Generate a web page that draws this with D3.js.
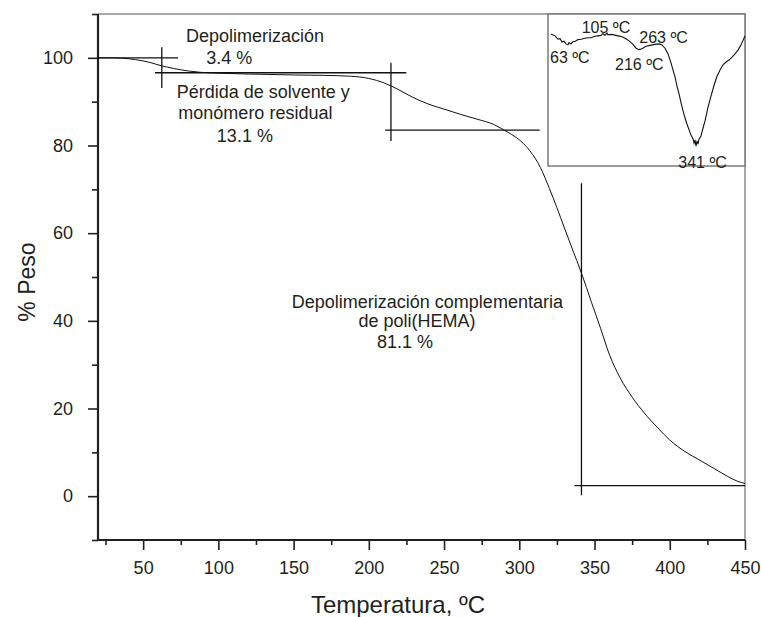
<!DOCTYPE html>
<html>
<head>
<meta charset="utf-8">
<script src="https://cdn.jsdelivr.net/npm/d3@7/dist/d3.min.js"></script>
<style>
  body { margin: 0; background: #fff; }
  text { font-family: "Liberation Sans", Arial, Helvetica, sans-serif; fill: #231f20; }
</style>
</head>
<body>
<svg id="chart" width="761" height="617"></svg>
<script>
// TGA curve: temperature (ºC) vs remaining weight (%)
const tempC = [20, 30, 40, 50, 55, 62, 70, 80, 88, 100, 120, 150, 170, 188, 200, 210, 220, 228, 240, 250,
  261, 272, 283, 290, 295, 301, 307, 314, 320, 325, 330, 335, 341.3, 348, 354, 360, 367, 375, 383, 392,
  400, 410, 420, 430, 438, 445, 450];
const weightPct = [100, 100, 99.8, 99.3, 98.9, 98.2, 97.6, 97.0, 96.7, 96.5, 96.3, 96.1, 96.0, 95.8, 95.3, 94.3, 92.7, 91.2, 89.4, 88.3,
  87.1, 86.0, 84.8, 83.5, 82.5, 81.0, 78.8, 75.0, 70.2, 65.8, 61.2, 56.6, 50.9, 44.2, 38.3, 32.2, 27.0, 22.6, 19.0, 15.6,
  12.8, 10.2, 8.2, 6.2, 4.6, 3.4, 2.9];

// Weight loss of each step (%)
const stepLoss = [3.4, 13.1, 81.1];
// Temperatures where each step is marked (ºC)
const stepTemp = [62.4, 214.7, 341.3];

// DTG curve for the inset (derivative, arbitrary units)
const dtgTemp = [26.5, 35.3, 41.8, 46.2, 50.6, 54.9, 59.3, 63.7, 65.8, 70.2, 74.6, 78.9, 85.5, 92, 100.8, 107.3, 113.9,
  122.6, 129.1, 135.7, 140.1, 144.4, 148.8, 151, 157.5, 164.1, 172.8, 181.5, 190.3, 199, 205.5, 212.1, 218.6,
  225.2, 233.9, 242.7, 253.6, 262.3, 268.9, 275.4, 282, 288.5, 292.9, 297.3, 301.6, 306, 310.4, 314.8, 319.1,
  323.5, 327.9, 332.2, 336.6, 338.8, 340.9, 343.1, 345.3, 347.5, 349.7, 354, 358.4, 362.7, 369.3, 375.8, 382.4,
  388.9, 395.5, 402, 408.6, 415.1, 421.7, 428.2, 434.8, 441.3, 447.8, 450];
const dtgValue = [-0.22, -0.26, -0.33, -0.32, -0.39, -0.37, -0.43, -0.45, -0.40, -0.43, -0.38, -0.38, -0.34, -0.33, -0.31, -0.30, -0.30,
  -0.27, -0.26, -0.25, -0.21, -0.25, -0.20, -0.24, -0.23, -0.24, -0.26, -0.28, -0.32, -0.38, -0.44, -0.52, -0.55,
  -0.53, -0.48, -0.46, -0.44, -0.43, -0.45, -0.52, -0.64, -0.83, -0.98, -1.13, -1.32, -1.48, -1.67, -1.84, -1.99,
  -2.12, -2.24, -2.35, -2.43, -2.52, -2.45, -2.58, -2.47, -2.54, -2.43, -2.37, -2.20, -2.05, -1.76, -1.53, -1.30,
  -1.11, -0.98, -0.87, -0.81, -0.77, -0.71, -0.64, -0.56, -0.45, -0.31, -0.26];
const dtgPeaks = [63, 105, 216, 263, 341];

const xTicks = [50, 100, 150, 200, 250, 300, 350, 400, 450];
const yTicks = [0, 20, 40, 60, 80, 100];

const svg = d3.select("#chart");
const ink = "#231f20";

const x = d3.scaleLinear().domain([20, 450]).range([98, 745]);
const y = d3.scaleLinear().domain([-10, 110]).range([540, 14]);

// frame (top and right)
svg.append("path")
  .attr("d", `M${x(20)},${y(110)}H${x(450)}V${y(-10)}`)
  .attr("fill", "none").attr("stroke", "#8c8c8c").attr("stroke-width", 1.5);

// axes
function styleAxis(g) {
  g.select(".domain").remove();
  g.selectAll("line").attr("stroke", ink).attr("stroke-width", 1.6);
  g.selectAll("text").attr("font-size", 18).attr("fill", ink);
}
const xMinor = d3.range(25, 450, 50);
const yMinor = d3.range(-10, 111, 20);

svg.append("g").attr("transform", `translate(0,${y(-10)})`)
  .call(d3.axisBottom(x).tickValues(xMinor).tickSize(5).tickFormat(""))
  .call(styleAxis);
svg.append("g").attr("transform", `translate(0,${y(-10)})`)
  .call(d3.axisBottom(x).tickValues(xTicks).tickSize(10).tickPadding(11).tickFormat(d3.format("d")))
  .call(styleAxis);
svg.append("g").attr("transform", `translate(${x(20)},0)`)
  .call(d3.axisLeft(y).tickValues(yMinor).tickSize(6).tickFormat(""))
  .call(styleAxis);
svg.append("g").attr("transform", `translate(${x(20)},0)`)
  .call(d3.axisLeft(y).tickValues(yTicks).tickSize(10).tickPadding(15).tickFormat(d3.format("d")))
  .call(styleAxis);

svg.append("line").attr("x1", x(20)).attr("x2", x(450)).attr("y1", y(-10)).attr("y2", y(-10))
  .attr("stroke", ink).attr("stroke-width", 2.2);
svg.append("line").attr("x1", x(20)).attr("x2", x(20)).attr("y1", y(110)).attr("y2", y(-10))
  .attr("stroke", ink).attr("stroke-width", 2.2);

// axis titles
svg.append("text").attr("x", 398).attr("y", 613)
  .attr("text-anchor", "middle").attr("font-size", 24).text("Temperatura, ºC");
svg.append("text").attr("transform", `translate(35,${(y(-10) + y(110)) / 2 + 5}) rotate(-90)`)
  .attr("text-anchor", "middle").attr("font-size", 23).text("% Peso");

// TGA curve
const tga = tempC.map((t, i) => [t, weightPct[i]]);
svg.append("path").datum(tga)
  .attr("d", d3.line().x(d => x(d[0])).y(d => y(d[1])).curve(d3.curveMonotoneX))
  .attr("fill", "none").attr("stroke", "#111").attr("stroke-width", 1);

// plateau levels derived from step losses
const levels = [100];
stepLoss.forEach(l => levels.push(+(levels[levels.length - 1] - l).toFixed(1)));

const marks = svg.append("g").attr("stroke", "#111").attr("stroke-width", 1.3);
function seg(t1, w1, t2, w2) {
  marks.append("line").attr("x1", x(t1)).attr("y1", y(w1)).attr("x2", x(t2)).attr("y2", y(w2));
}
// step 1
seg(20, levels[0], 73.2, levels[0]);
seg(stepTemp[0], 102.4, stepTemp[0], 93.1);
seg(57.9, levels[1], 224.9, levels[1]);
// step 2
seg(stepTemp[1], 98.9, stepTemp[1], 81.0);
seg(210.9, levels[2], 313.6, levels[2]);
// step 3
seg(stepTemp[2], 71.4, stepTemp[2], 0.2);
seg(336.6, levels[3], 450, levels[3]);

// step annotations
const notes = [
  { t: 78.5, w: 103.5, s: "Depolimerización" },
  { t: 92.0, w: 98.5, s: `${stepLoss[0]} %` },
  { t: 72.3, w: 90.9, s: "Pérdida de solvente y" },
  { t: 73.4, w: 86.1, s: "monómero residual" },
  { t: 99.0, w: 80.7, s: `${stepLoss[1]} %` },
  { t: 148.8, w: 43.0, s: "Depolimerización complementaria" },
  { t: 193.1, w: 38.6, s: "de poli(HEMA)" },
  { t: 205.4, w: 33.9, s: `${stepLoss[2]} %` }
];
svg.append("g").selectAll("text").data(notes).join("text")
  .attr("x", d => x(d.t)).attr("y", d => y(d.w))
  .attr("font-size", 18).text(d => d.s);

// inset: DTG curve
const xi = d3.scaleLinear().domain([20, 450]).range([548, 745]);
const yi = d3.scaleLinear().domain([-3.0, 0.2]).range([166, 14]);
const inset = svg.append("g");
inset.append("rect").attr("x", xi(20)).attr("y", yi(0.2))
  .attr("width", xi(450) - xi(20)).attr("height", yi(-3.0) - yi(0.2))
  .attr("fill", "#fff").attr("stroke", "#7a7a7a").attr("stroke-width", 1.5);
const dtg = dtgTemp.map((t, i) => [t, dtgValue[i]]);
inset.append("path").datum(dtg)
  .attr("d", d3.line().x(d => xi(d[0])).y(d => yi(d[1])))
  .attr("fill", "none").attr("stroke", "#111").attr("stroke-width", 1.1);

// peak labels (start temperature, baseline value inside the inset)
const peakPos = [[24.4, -0.83], [93.6, -0.19], [166.3, -0.98], [219.3, -0.41], [304.4, -3.04]];
inset.selectAll("text.peak").data(dtgPeaks).join("text").attr("class", "peak")
  .attr("x", (d, i) => xi(peakPos[i][0])).attr("y", (d, i) => yi(peakPos[i][1]))
  .attr("font-size", 16).text(d => `${d} ºC`);
</script>
</body>
</html>
